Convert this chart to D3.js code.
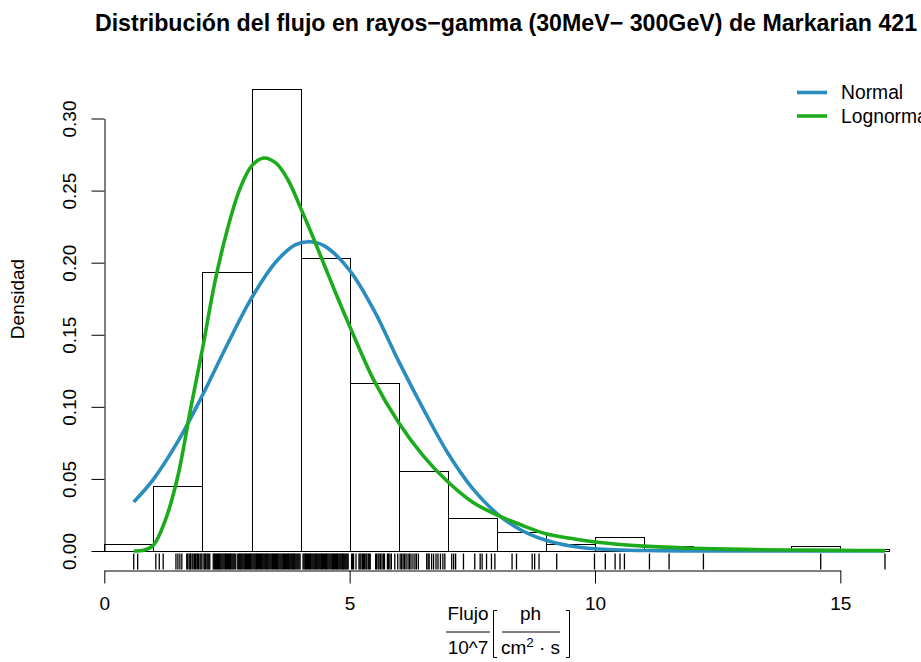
<!DOCTYPE html>
<html>
<head>
<meta charset="utf-8">
<script src="https://cdn.jsdelivr.net/npm/d3@7/dist/d3.min.js"></script>
<style>
  body { margin: 0; background: #fff; }
  svg { display: block; }
  text { font-family: "Liberation Sans", Arial, Helvetica, sans-serif; fill: #000; }
</style>
</head>
<body>
<svg width="921" height="662"></svg>
<script>
// histogram: bin edges and density per bin
const binEdges = [0, 1, 2, 3, 4, 5, 6, 7, 8, 9, 10, 11, 12, 13, 14, 15, 16];
const binDensity = [0.0048, 0.0452, 0.1935, 0.3206, 0.2035, 0.1168, 0.0552, 0.0226,
                    0.0129, 0.0048, 0.0097, 0.0032, 0.0016, 0, 0.0032, 0.0016];

// rug ticks (flux values)
const rugValues = [
  0.60, 0.68, 1.05, 1.12, 1.20, 1.46, 1.50, 1.54, 1.58,
  1.68, 1.70, 1.73, 1.75, 1.76, 1.79, 1.81, 1.84, 1.86, 1.87, 1.90, 1.92, 1.95, 1.97, 1.99,
  2.03, 2.05, 2.06, 2.09, 2.11, 2.13, 2.15, 2.22, 2.24, 2.25, 2.27, 2.29,
  2.31, 2.33, 2.35, 2.36, 2.38, 2.40, 2.42, 2.44, 2.46, 2.47, 2.49, 2.51, 2.53, 2.55, 2.57,
  2.58, 2.60, 2.62, 2.64, 2.66, 2.68, 2.72, 2.74, 2.76, 2.77, 2.79, 2.81, 2.83, 2.85, 2.87,
  2.88, 2.90, 2.92, 2.94, 2.96, 2.98, 2.99, 3.01, 3.03, 3.05, 3.07, 3.09, 3.10, 3.12, 3.14,
  3.16, 3.18, 3.20, 3.21, 3.23, 3.25, 3.27, 3.29, 3.31, 3.32, 3.34, 3.36, 3.38, 3.40, 3.42,
  3.43, 3.45, 3.47, 3.49, 3.51, 3.53, 3.54, 3.56, 3.58, 3.60, 3.62, 3.64, 3.65, 3.67, 3.69,
  3.71, 3.73, 3.75, 3.76, 3.78, 3.80, 3.82, 3.84, 3.86, 3.87, 3.89, 3.91, 3.93, 3.95, 3.97,
  3.99, 4.05, 4.07, 4.09, 4.10, 4.12, 4.14, 4.16, 4.18, 4.20, 4.21, 4.23, 4.25, 4.27, 4.29,
  4.31, 4.32, 4.34, 4.36, 4.38, 4.40, 4.42, 4.43, 4.45, 4.47, 4.49, 4.51, 4.53, 4.54, 4.56,
  4.58, 4.60, 4.62, 4.64, 4.65, 4.67, 4.69, 4.71, 4.73, 4.75, 4.76, 4.78, 4.80, 4.82, 4.84,
  4.86, 4.87, 4.89, 4.91, 4.93, 4.95,
  4.97, 5.04, 5.06, 5.08, 5.13, 5.19, 5.21, 5.23, 5.26, 5.28, 5.30, 5.33, 5.35, 5.38, 5.40,
  5.42, 5.53, 5.55, 5.58, 5.60, 5.63, 5.66, 5.69, 5.71, 5.77, 5.79, 5.82, 5.85, 5.92,
  5.98, 6.03, 6.06, 6.09, 6.12, 6.15, 6.19, 6.22, 6.25, 6.29, 6.33, 6.36, 6.40,
  6.57, 6.60, 6.62, 6.67, 6.71, 6.76, 6.80, 6.85, 6.90, 6.94, 7.08, 7.12, 7.16, 7.32,
  7.55, 7.66, 7.70, 7.79, 7.89, 7.96, 8.31, 8.40, 8.72, 8.77, 8.86, 9.22, 9.99,
  10.21, 10.41, 10.51, 10.60, 11.11, 11.51, 12.21, 14.60, 15.91
];

// fitted normal density
const normalX = [0.6, 1, 1.5, 2, 2.5, 3, 3.5, 3.9, 4.2, 4.5, 5, 5.5, 6, 6.5, 7, 7.5, 8, 8.5, 9, 9.5, 10, 11, 12, 13, 15.91];
const normalY = [0.034, 0.0497, 0.076, 0.108, 0.1427, 0.1754, 0.2006, 0.2125, 0.2145, 0.2113, 0.1947, 0.1667, 0.1315,
                 0.0986, 0.068, 0.0436, 0.026, 0.0144, 0.0074, 0.0035, 0.0016, 0.0003, 0.0001, 0.0001, 0.0001];

// fitted lognormal density
const lognormX = [0.6, 0.8, 1, 1.25, 1.5, 1.75, 2, 2.25, 2.5, 2.75, 3, 3.25, 3.5, 3.75, 4, 4.25, 4.5, 4.75, 5,
                  5.5, 6, 6.5, 7, 7.5, 8, 8.5, 9, 9.5, 10, 11, 12, 13, 14, 15, 15.91];
const lognormY = [0, 0.0005, 0.004, 0.022, 0.052, 0.097, 0.140, 0.186, 0.222, 0.250, 0.267, 0.2726, 0.269, 0.257,
                  0.238, 0.218, 0.197, 0.176, 0.156, 0.118, 0.089, 0.066, 0.048, 0.034, 0.025, 0.018, 0.012,
                  0.0088, 0.0063, 0.0034, 0.0019, 0.0011, 0.0007, 0.0004, 0.0003];

const xTicks = [0, 5, 10, 15];
const yTicks = [0, 0.05, 0.10, 0.15, 0.20, 0.25, 0.30];
const legendNames = ['Normal', 'Lognormal'];
const legendColors = ['#2b8cbe', '#1cab1c'];

let svg = d3.select('svg');

let x = d3.scaleLinear().domain([0, 16]).range([104.3, 889.4]);
let y = d3.scaleLinear().domain([0, 0.30]).range([551, 118.5]);

// title
svg.append('text')
  .attr('x', 506).attr('y', 31)
  .attr('text-anchor', 'middle')
  .style('font-size', '23.2px').style('font-weight', 'bold')
  .text('Distribución del flujo en rayos−gamma (30MeV− 300GeV) de Markarian 421');

// histogram bars
let bins = binDensity.map((d, i) => ({x0: binEdges[i], x1: binEdges[i + 1], d: d}));
svg.selectAll('.bar')
  .data(bins)
  .enter()
  .append('rect')
  .attr('class', 'bar')
  .attr('x', b => Math.round(x(b.x0)) + 0.5)
  .attr('y', b => Math.round(y(b.d)) + 0.5)
  .attr('width', b => Math.round(x(b.x1)) - Math.round(x(b.x0)))
  .attr('height', b => Math.round(y(0)) - Math.round(y(b.d)))
  .attr('fill', 'none')
  .attr('stroke', '#000')
  .attr('stroke-width', 1);

// rug
svg.selectAll('.rug')
  .data(rugValues)
  .enter()
  .append('line')
  .attr('class', 'rug')
  .attr('x1', d => x(d)).attr('x2', d => x(d))
  .attr('y1', 553.5).attr('y2', 569.5)
  .attr('stroke', '#000')
  .attr('stroke-width', 1.3);

// fitted curves
let line = d3.line().x(p => x(p[0])).y(p => y(p[1])).curve(d3.curveCatmullRom.alpha(0.5));
svg.append('path')
  .attr('d', line(normalX.map((v, i) => [v, normalY[i]])))
  .attr('fill', 'none').attr('stroke', legendColors[0]).attr('stroke-width', 3.6);
svg.append('path')
  .attr('d', line(lognormX.map((v, i) => [v, lognormY[i]])))
  .attr('fill', 'none').attr('stroke', legendColors[1]).attr('stroke-width', 3.6);

// y axis
let yAxis = svg.append('g')
  .attr('transform', 'translate(104.5,0)')
  .call(d3.axisLeft(y).tickValues(yTicks).tickFormat(d3.format('.2f')).tickSize(13).tickSizeOuter(0));
yAxis.selectAll('text')
  .attr('transform', 'rotate(-90)')
  .attr('x', 0).attr('y', -29).attr('dy', null)
  .attr('text-anchor', 'middle')
  .style('font-size', '19px');

// x axis
let xAxisScale = d3.scaleLinear().domain([0, 15]).range([x(0), x(15)]);
let xAxis = svg.append('g')
  .attr('transform', 'translate(0,570.5)')
  .call(d3.axisBottom(xAxisScale).tickValues(xTicks).tickFormat(d3.format('d')).tickSize(13).tickSizeOuter(0).tickPadding(13));
xAxis.selectAll('text').style('font-size', '19px');

svg.selectAll('.domain, .tick line').attr('stroke', '#000');
svg.selectAll('.tick text').style('font-family', '"Liberation Sans", Arial, sans-serif').attr('fill', '#000');

// y label
svg.append('text')
  .attr('transform', 'translate(24,299) rotate(-90)')
  .attr('text-anchor', 'middle')
  .style('font-size', '19px')
  .text('Densidad');

// x label:  Flujo/10^7 [ ph / (cm^2 · s) ]
let xl = svg.append('g');
xl.append('text').attr('x', 468).attr('y', 620).attr('text-anchor', 'middle').style('font-size', '19px').text('Flujo');
xl.append('line').attr('x1', 446).attr('x2', 490).attr('y1', 632).attr('y2', 632).attr('stroke', '#000');
xl.append('text').attr('x', 468).attr('y', 654).attr('text-anchor', 'middle').style('font-size', '19px').text('10^7');
xl.append('path').attr('d', 'M497,610.5H493.5V657.5H497').attr('fill', 'none').attr('stroke', '#000');
xl.append('text').attr('x', 530.5).attr('y', 620).attr('text-anchor', 'middle').style('font-size', '19px').text('ph');
xl.append('line').attr('x1', 502).attr('x2', 560).attr('y1', 632).attr('y2', 632).attr('stroke', '#000');
let den = xl.append('text').attr('x', 530.5).attr('y', 654).attr('text-anchor', 'middle').style('font-size', '19px');
den.append('tspan').text('cm');
den.append('tspan').attr('dy', -7).style('font-size', '13.5px').text('2');
den.append('tspan').attr('dy', 7).text(' · s');
xl.append('path').attr('d', 'M566,610.5H569.5V657.5H566').attr('fill', 'none').attr('stroke', '#000');

// legend
let leg = svg.selectAll('.leg')
  .data(legendNames)
  .enter()
  .append('g')
  .attr('class', 'leg')
  .attr('transform', (d, i) => 'translate(0,' + (92.5 + i * 23.5) + ')');
leg.append('line')
  .attr('x1', 797).attr('x2', 827)
  .attr('stroke', (d, i) => legendColors[i]).attr('stroke-width', 3.6);
leg.append('text')
  .attr('x', 841).attr('dy', '0.36em')
  .style('font-size', '19.3px')
  .text(d => d);
</script>
</body>
</html>
